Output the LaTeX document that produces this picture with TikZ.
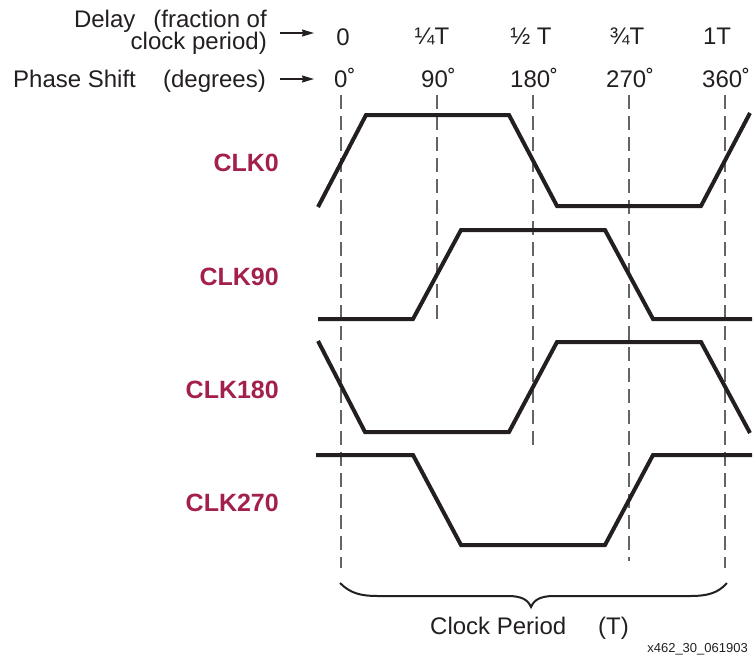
\documentclass[tikz,border=0pt]{standalone}
\usepackage{fontspec}
\setmainfont{Liberation Sans}
\usetikzlibrary{arrows.meta}
\definecolor{clkred}{RGB}{163,32,76}
\definecolor{ink}{RGB}{35,31,32}
\definecolor{guide}{RGB}{100,100,102}
\begin{document}
\begin{tikzpicture}[x=1pt,y=-1pt,
  hdr/.style={inner sep=0pt,font=\fontsize{24}{26}\selectfont,text=ink},
  clklabel/.style={inner sep=0pt,anchor=base east,font=\fontsize{25}{28}\selectfont\bfseries,text=clkred},
  wave/.style={line width=4pt,draw=ink,line join=miter,line cap=butt},
  guideline/.style={line width=2pt,draw=guide,dash pattern=on 14pt off 7pt},
  pointer/.style={line width=1.6pt,draw=ink,-{Stealth[length=12pt,width=7pt,inset=1pt]}},
  bracestyle/.style={line width=2pt,draw=ink},
  idlabel/.style={inner sep=0pt,anchor=base east,font=\fontsize{13}{15}\selectfont,text=ink}]
\useasboundingbox (0,0) rectangle (755,662);

% header rows
\node[inner sep=0pt,anchor=base east,text=ink,font=\fontsize{24}{18}\selectfont] (delay) at (267,27)
  {\begin{tabular}[t]{@{}r@{}}Delay\hspace{18pt}(fraction of\\clock period)\hspace{3pt}\end{tabular}};
\node[hdr,anchor=base west] (phase) at (13,87) {Phase Shift};
\node[hdr,anchor=base east] (deg) at (266,87) {(degrees)};

\coordinate (a1s) at (280,33);
\coordinate (a1e) at (314,33);
\coordinate (a2s) at (280,79);
\coordinate (a2e) at (314,79);
\draw[pointer] (a1s) -- (a1e);
\draw[pointer] (a2s) -- (a2e);

\node[hdr,anchor=base] (t0) at (343,45) {0};
\node[hdr,anchor=base] (t1) at (432,44) {¼T};
\node[hdr,anchor=base] (t2) at (531,44) {½ T};
\node[hdr,anchor=base] (t3) at (627,44) {¾T};
\node[hdr,anchor=base] (t4) at (717,44) {1T};

\node[hdr,anchor=base west] (p0) at (334,87) {0˚};
\node[hdr,anchor=base west] (p1) at (421,87) {90˚};
\node[hdr,anchor=base west] (p2) at (510,87) {180˚};
\node[hdr,anchor=base west] (p3) at (606,87) {270˚};
\node[hdr,anchor=base west] (p4) at (702,87) {360˚};

% guide lines
\draw[guideline] (341,95) -- (341,568);
\draw[guideline] (437,95) -- (437,325);
\draw[guideline] (533,95) -- (533,446);
\draw[guideline] (629,95) -- (629,561);
\draw[guideline] (725,95) -- (725,568);

% clock labels
\node[clklabel] (clk0) at (279,171) {CLK0};
\node[clklabel] (clk90) at (279,285) {CLK90};
\node[clklabel] (clk180) at (279,398) {CLK180};
\node[clklabel] (clk270) at (279,511) {CLK270};

% waveforms
\draw[wave] (318,207) -- (366,115) -- (509,115) -- (557,206) -- (701,206) -- (750,113);
\draw[wave] (318,319) -- (413,319) -- (461,230) -- (605,230) -- (653,319) -- (752,319);
\draw[wave] (318,341) -- (365,432) -- (509,432) -- (557,342) -- (701,342) -- (750,433);
\draw[wave] (316,455) -- (413,455) -- (461,545) -- (605,545) -- (653,455) -- (752,455);

% brace
\draw[bracestyle] (340,583) .. controls (350,593) and (360,596) .. (378,596)
  -- (508,596) .. controls (522,596) and (528,600) .. (531,607)
  .. controls (534,600) and (540,596) .. (554,596)
  -- (690,596) .. controls (708,596) and (718,593) .. (727,583);

\node[hdr,anchor=base west] (cp) at (430,634) {Clock Period};
\node[hdr,anchor=base west] (cpt) at (598,634) {(T)};
\node[idlabel] (figid) at (748,652) {x462\_30\_061903};
\end{tikzpicture}
\end{document}
